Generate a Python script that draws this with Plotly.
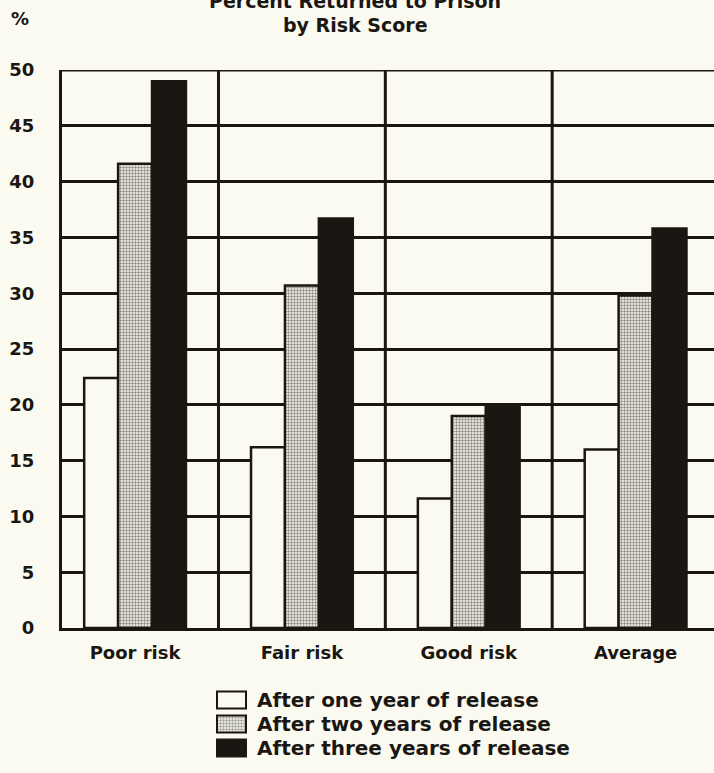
import plotly.graph_objects as go

# ---- data ----
categories = ["Poor risk", "Fair risk", "Good risk", "Average"]
series_names = ["After one year of release", "After two years of release", "After three years of release"]
one_year = [22.4, 16.2, 11.6, 16.0]
two_years = [41.6, 30.7, 19.0, 29.8]
three_years = [49.0, 36.7, 19.9, 35.8]
y_ticks = [0, 5, 10, 15, 20, 25, 30, 35, 40, 45, 50]

W, H = 714, 773
BG = "#fbfaf0"
INK = "#1a1713"
FONT = "DejaVu Sans"

def px_x(p):
    return p / W

def px_y(p):
    return (H - p) / H

fig = go.Figure()

x_idx = list(range(len(categories)))
PATTERN = dict(shape=".", fgcolor=INK, bgcolor=BG, size=3, solidity=0.5)
styles = [
    dict(color=BG, pattern=dict(shape="")),
    dict(color=BG, pattern=PATTERN),
    dict(color=INK, pattern=dict(shape="")),
]
for name, vals, st in zip(series_names, [one_year, two_years, three_years], styles):
    fig.add_trace(go.Bar(
        x=x_idx, y=vals, name=name,
        marker=dict(color=st["color"], pattern=st["pattern"], line=dict(color=INK, width=2.5)),
        showlegend=False, hoverinfo="skip",
    ))

# legend boxes drawn as bars on a small helper axis pair
fig.add_trace(go.Bar(
    x=[1, 1, 1], y=[0, 1, 2], base=0, orientation="h", width=17 / 24,
    marker=dict(color=[BG, BG, INK],
                pattern=dict(shape=["", ".", ""], fgcolor=INK, bgcolor=BG, size=3, solidity=0.5),
                line=dict(color=INK, width=2)),
    xaxis="x2", yaxis="y2", showlegend=False, hoverinfo="skip",
))

shapes = []
for b in [0.5, 1.5, 2.5]:
    shapes.append(dict(type="line", xref="x", yref="y", x0=b, x1=b, y0=0, y1=50,
                       line=dict(color=INK, width=3), layer="below"))
shapes.append(dict(type="line", xref="x domain", yref="y", x0=0, x1=1, y0=50, y1=50,
                   line=dict(color=INK, width=3), layer="below"))

annotations = [
    dict(text="<b>Percent Returned to Prison</b>", x=px_x(355), y=px_y(0.5), xref="paper", yref="paper",
         xanchor="center", yanchor="middle", showarrow=False, font=dict(family=FONT, size=19, color=INK)),
    dict(text="<b>by Risk Score</b>", x=px_x(355), y=px_y(25.5), xref="paper", yref="paper",
         xanchor="center", yanchor="middle", showarrow=False, font=dict(family=FONT, size=19, color=INK)),
    dict(text="<b>%</b>", x=px_x(20), y=px_y(19), xref="paper", yref="paper",
         xanchor="center", yanchor="middle", showarrow=False, font=dict(family=FONT, size=18, color=INK)),
]
for i, name in enumerate(series_names):
    annotations.append(dict(text="<b>%s</b>" % name, x=px_x(255), y=px_y(700 + 24 * i),
                            xref="paper", yref="paper", xanchor="left", yanchor="middle",
                            showarrow=False, font=dict(family=FONT, size=20, color=INK)))

fig.update_layout(
    width=W, height=H, autosize=False,
    margin=dict(l=0, r=0, t=0, b=0, pad=0),
    paper_bgcolor=BG, plot_bgcolor=BG,
    barmode="group", bargap=0.39, bargroupgap=0,
    font=dict(family=FONT, color=INK),
    shapes=shapes, annotations=annotations,
    xaxis=dict(domain=[px_x(62), 1], range=[-0.438, 3.47], tickvals=x_idx,
               ticktext=["<b>%s</b>" % c for c in categories],
               tickfont=dict(family=FONT, size=18, color=INK),
               showgrid=False, zeroline=False, showline=True, linecolor=INK, linewidth=3,
               ticks="", ticklabelstandoff=6, fixedrange=True, automargin=False),
    yaxis=dict(domain=[px_y(628), px_y(70)], range=[0, 50], tickvals=y_ticks,
               ticktext=["<b>%d</b>" % t for t in y_ticks],
               tickfont=dict(family=FONT, size=18, color=INK),
               showgrid=True, gridcolor=INK, gridwidth=3, zeroline=False,
               showline=True, linecolor=INK, linewidth=3, ticks="", ticklabelstandoff=21,
               fixedrange=True, automargin=False),
    xaxis2=dict(domain=[px_x(213), px_x(250)], range=[(213 - 217) / 29, (250 - 217) / 29],
                anchor="y2", visible=False, fixedrange=True, automargin=False),
    yaxis2=dict(domain=[px_y(762), px_y(686)], range=[2 + (762 - 748) / 24, -(700 - 686) / 24],
                anchor="x2", visible=False, fixedrange=True, automargin=False),
)

page_js = (
    "document.documentElement.style.margin='0';"
    "document.documentElement.style.overflow='hidden';"
    "document.body.style.margin='0';"
    "document.body.style.padding='0';"
    "document.body.style.overflow='hidden';"
    "document.body.style.background='%s';" % BG
)

fig.write_html("out.html", post_script=page_js, config={"displayModeBar": False})
